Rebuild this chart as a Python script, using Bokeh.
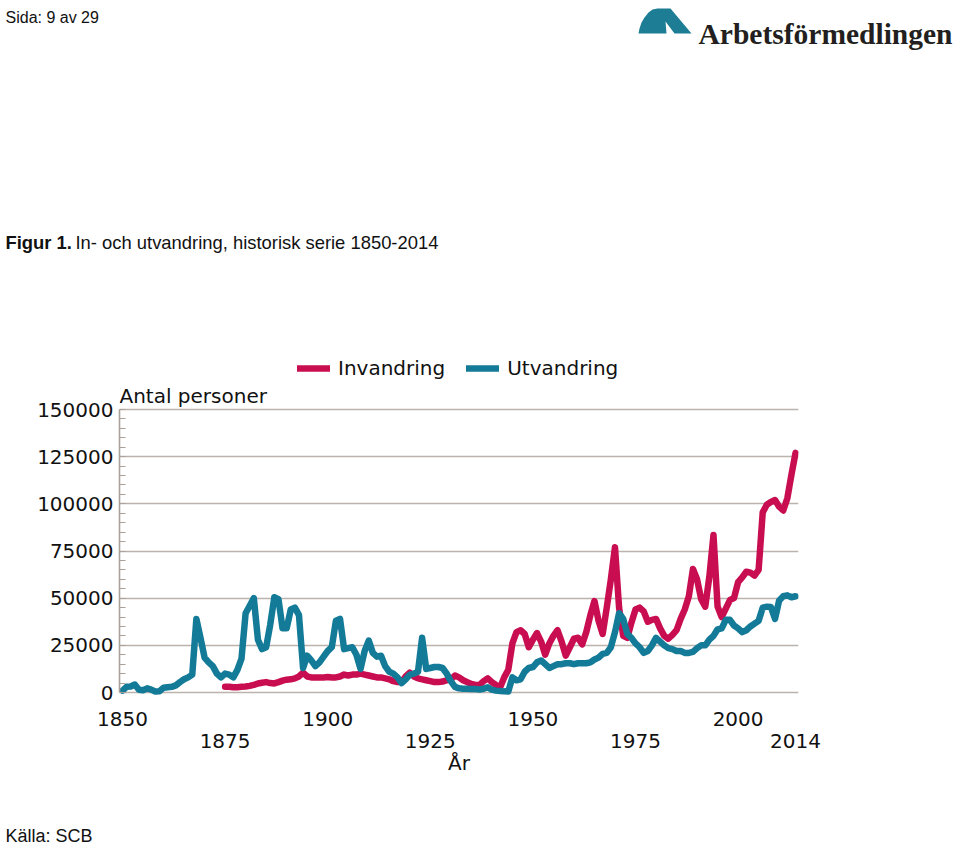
from bokeh.plotting import figure
from bokeh.layouts import column
from bokeh.models import (Range1d, LinearAxis, FixedTicker, BasicTickFormatter,
                          Label, Legend, LegendItem)
from bokeh.embed import file_html
from bokeh.resources import INLINE

# ---------------- data ----------------
years_ut = list(range(1850, 2015))
utvandring = [
    1000, 3000, 3200, 4200, 1500, 1200, 2200, 1500, 500, 700,            # 1850-1859
    2500, 2800, 3000, 3800, 5500, 7000, 8000, 9500, 39000, 29000,        # 1860-1869
    18500, 16000, 14000, 10000, 8000, 10000, 9500, 8000, 12000, 18000,   # 1870-1879
    42000, 46000, 50000, 28000, 23000, 24000, 36000, 50500, 49500, 34000,  # 1880-1889
    34000, 44000, 45000, 41000, 13000, 19500, 17000, 14000, 16000, 19000,  # 1890-1899
    22000, 24000, 38000, 39000, 23000, 23500, 24000, 20000, 12500, 22000,  # 1900-1909
    27500, 21000, 19000, 19500, 14000, 11000, 10000, 8000, 5000, 7000,     # 1910-1919
    9500, 10000, 11000, 29000, 12500, 13000, 13500, 13500, 13000, 10000,   # 1920-1929
    6000, 3000, 2200, 2000, 2000, 1800, 1800, 1600, 2000, 2800,            # 1930-1939
    1500, 1000, 800, 600, 500, 8000, 6500, 7000, 11000, 13000,             # 1940-1949
    13500, 16000, 17000, 15000, 13000, 14000, 15000, 15000, 15500, 15500,  # 1950-1959
    15000, 15500, 15500, 15500, 16000, 17500, 18500, 20500, 21000, 24000,  # 1960-1969
    32000, 42000, 39000, 31000, 29000, 26000, 24000, 21000, 22000, 25000,  # 1970-1979
    29000, 27000, 25000, 23500, 23000, 22000, 22000, 21000, 21000, 21500,  # 1980-1989
    23500, 25000, 25000, 28000, 30000, 33500, 34000, 38500, 38500, 35500,  # 1990-1999
    34000, 32000, 33000, 35000, 36500, 38000, 45000, 45500, 45300, 39000,  # 2000-2009
    48800, 51000, 51500, 50500, 51000,                                     # 2010-2014
]

years_in = list(range(1875, 2015))
invandring = [
    3000, 3000, 2800, 2800, 3000,                                          # 1875-1879
    3200, 3500, 4000, 4800, 5200, 5500, 5000, 4800, 5500, 6300,            # 1880-1889
    6800, 7000, 7500, 8500, 10500, 8500, 8000, 8000, 8000, 8000,           # 1890-1899
    8200, 8000, 8000, 8500, 9500, 9000, 9500, 9500, 10000, 9500,           # 1900-1909
    9000, 8500, 8000, 8000, 7500, 7000, 6000, 5500, 5500, 8500,            # 1910-1919
    10500, 8500, 7500, 7000, 6500, 6000, 5500, 5500, 5800, 6500,           # 1920-1929
    7000, 9000, 8000, 6500, 5500, 4500, 4000, 4000, 6000, 7500,            # 1930-1939
    5500, 4000, 2700, 8000, 12000, 26000, 32000, 33000, 31000, 24000,      # 1940-1949
    28000, 31500, 27000, 20000, 26000, 30000, 33000, 27000, 19500, 24000,  # 1950-1959
    28500, 29000, 25500, 32000, 41000, 48500, 38000, 31000, 45000, 60000,  # 1960-1969
    77000, 45000, 30000, 29000, 37000, 44000, 45000, 43000, 37500, 38500,  # 1970-1979
    39000, 34000, 30000, 28500, 30500, 33000, 39000, 44000, 51000, 65500,  # 1980-1989
    60000, 49500, 45500, 61500, 83500, 45500, 40000, 44500, 49000, 50000,  # 1990-1999
    58500, 61000, 64000, 63500, 62000, 65000, 95500, 99500, 101000, 102000,  # 2000-2009
    98500, 96500, 103000, 115500, 127000,                                  # 2010-2014
]

y_ticks = [0, 25000, 50000, 75000, 100000, 125000, 150000]
y_minor_ticks = [5000 * i for i in range(31)]
x_ticks_row1 = [1850, 1900, 1950, 2000]
x_ticks_row2 = [1875, 1925, 1975, 2014]
series_labels = ["Invandring", "Utvandring"]

# ---------------- style ----------------
RED = "#c80e50"
BLUE = "#137a98"
TEAL = "#1d7d95"
GRID = "#bcb4ac"
AXIS = "#a9a19a"
TXT = "#111111"
CHART_FONT = "DejaVu Sans"
PAGE_FONT = "Liberation Sans"
LW = 6.5

PAGE_W = 960
HEAD_H = 340          # page rows 0..340
CHART_H = 460         # page rows 340..800
FOOT_H = 846 - HEAD_H - CHART_H

# chart frame geometry (page pixels)
FRAME_L, FRAME_W = 119, 679
FRAME_TOP = HEAD_H
FRAME_BOT = 696
ZERO_PX, PX_PER_150K = 692, 283.0
y_lo = -(FRAME_BOT - ZERO_PX) / PX_PER_150K * 150000
y_hi = (ZERO_PX - FRAME_TOP) / PX_PER_150K * 150000
x_lo = 1850 - (122 - FRAME_L) / 4.104
x_hi = x_lo + FRAME_W / 4.104


def blank(h, y0):
    f = figure(width=PAGE_W, height=h, output_backend="svg", toolbar_location=None,
               x_range=Range1d(0, PAGE_W), y_range=Range1d(y0 + h, y0),
               x_axis_type=None, y_axis_type=None,
               min_border=0, min_border_left=0, min_border_right=0,
               min_border_top=0, min_border_bottom=0, frame_align=False)
    f.outline_line_color = None
    f.background_fill_color = "white"
    f.border_fill_color = "white"
    return f


def lab(fig, text, x, y, size, font=PAGE_FONT, style="normal", align="left",
        baseline="middle", color=TXT):
    fig.add_layout(Label(x=x, y=y, text=text, text_font=font, text_font_size=size,
                         text_font_style=style, text_align=align,
                         text_baseline=baseline, text_color=color))


# ---------------- header ----------------
head = blank(HEAD_H, 0)
lab(head, "Sida: 9 av 29", 5, 17, "16px")
lab(head, "Figur 1.", 5, 242, "18.4px", style="bold")
lab(head, "In- och utvandring, historisk serie 1850-2014", 75, 242, "18.4px")
lab(head, "Arbetsförmedlingen", 952, 33, "29.5px", font="Liberation Serif",
    style="bold", align="right", baseline="alphabetic", color="#231f20")
logo_x = [638, 639, 641, 644, 648, 652, 657, 670, 691, 674, 665, 666]
logo_y = [33, 28, 22, 17, 12, 9, 8, 8, 33, 33, 21, 33]
head.patch(logo_x, logo_y, fill_color=TEAL, line_color=None)

# ---------------- chart ----------------
p = figure(width=PAGE_W, height=CHART_H, output_backend="svg", toolbar_location=None,
           x_range=Range1d(x_lo, x_hi), y_range=Range1d(y_lo, y_hi),
           min_border_left=FRAME_L, min_border_right=PAGE_W - FRAME_L - FRAME_W,
           min_border_top=0, min_border_bottom=HEAD_H + CHART_H - FRAME_BOT,
           frame_align=False)
p.outline_line_color = None
p.background_fill_color = "white"
p.border_fill_color = "white"

p.xgrid.visible = False
p.ygrid.ticker = FixedTicker(ticks=y_ticks)
p.ygrid.grid_line_color = GRID
p.ygrid.grid_line_width = 1.6

ya = p.yaxis[0]
ya.ticker = FixedTicker(ticks=y_ticks, minor_ticks=y_minor_ticks)
ya.formatter = BasicTickFormatter(use_scientific=False)
ya.bounds = (0, 150000)
ya.axis_line_color = AXIS
ya.axis_line_width = 1.6
ya.major_tick_in = 0
ya.major_tick_out = 0
ya.minor_tick_in = 6
ya.minor_tick_out = 0
ya.minor_tick_line_color = AXIS
ya.minor_tick_line_width = 1.2
ya.major_label_text_font = CHART_FONT
ya.major_label_text_font_size = "20px"
ya.major_label_text_color = TXT
ya.major_label_standoff = 6


def style_x(ax, ticks, standoff):
    ax.ticker = FixedTicker(ticks=ticks)
    ax.formatter = BasicTickFormatter(use_scientific=False)
    ax.axis_line_color = None
    ax.major_tick_line_color = None
    ax.minor_tick_line_color = None
    ax.major_tick_in = 0
    ax.major_tick_out = 0
    ax.minor_tick_in = 0
    ax.minor_tick_out = 0
    ax.major_label_text_font = CHART_FONT
    ax.major_label_text_font_size = "20px"
    ax.major_label_text_color = TXT
    ax.major_label_standoff = standoff


xa1 = p.xaxis[0]
style_x(xa1, x_ticks_row1, 15)
xa2 = LinearAxis()
style_x(xa2, x_ticks_row2, 5)
xa2.axis_label = "År"
xa2.axis_label_text_font = CHART_FONT
xa2.axis_label_text_font_size = "20px"
xa2.axis_label_text_font_style = "normal"
xa2.axis_label_text_color = TXT
xa2.axis_label_standoff = 0
p.add_layout(xa2, "below")

r_in = p.line(years_in, invandring, line_color=RED, line_width=LW,
              line_join="round", line_cap="round")
r_ut = p.line(years_ut, utvandring, line_color=BLUE, line_width=LW,
              line_join="round", line_cap="round")

legend = Legend(items=[LegendItem(label=series_labels[0], renderers=[r_in]),
                       LegendItem(label=series_labels[1], renderers=[r_ut])],
                orientation="horizontal", location=(297 - FRAME_L, FRAME_BOT - 380),
                label_text_font=CHART_FONT, label_text_font_size="20px",
                label_text_color=TXT, glyph_width=33, glyph_height=22,
                label_height=22, label_standoff=8, spacing=21, padding=0,
                margin=0, border_line_color=None, background_fill_alpha=0)
p.add_layout(legend)

p.add_layout(Label(x=0, y=FRAME_BOT - 395, x_units="screen", y_units="screen",
                   text="Antal personer", text_font=CHART_FONT, text_font_size="20px",
                   text_baseline="middle", text_color=TXT))

# ---------------- footer ----------------
foot = blank(FOOT_H, HEAD_H + CHART_H)
lab(foot, "Källa: SCB", 5, 835, "18px")

layout = column(head, p, foot, spacing=0)
open("out.html", "w").write(file_html(layout, INLINE))
